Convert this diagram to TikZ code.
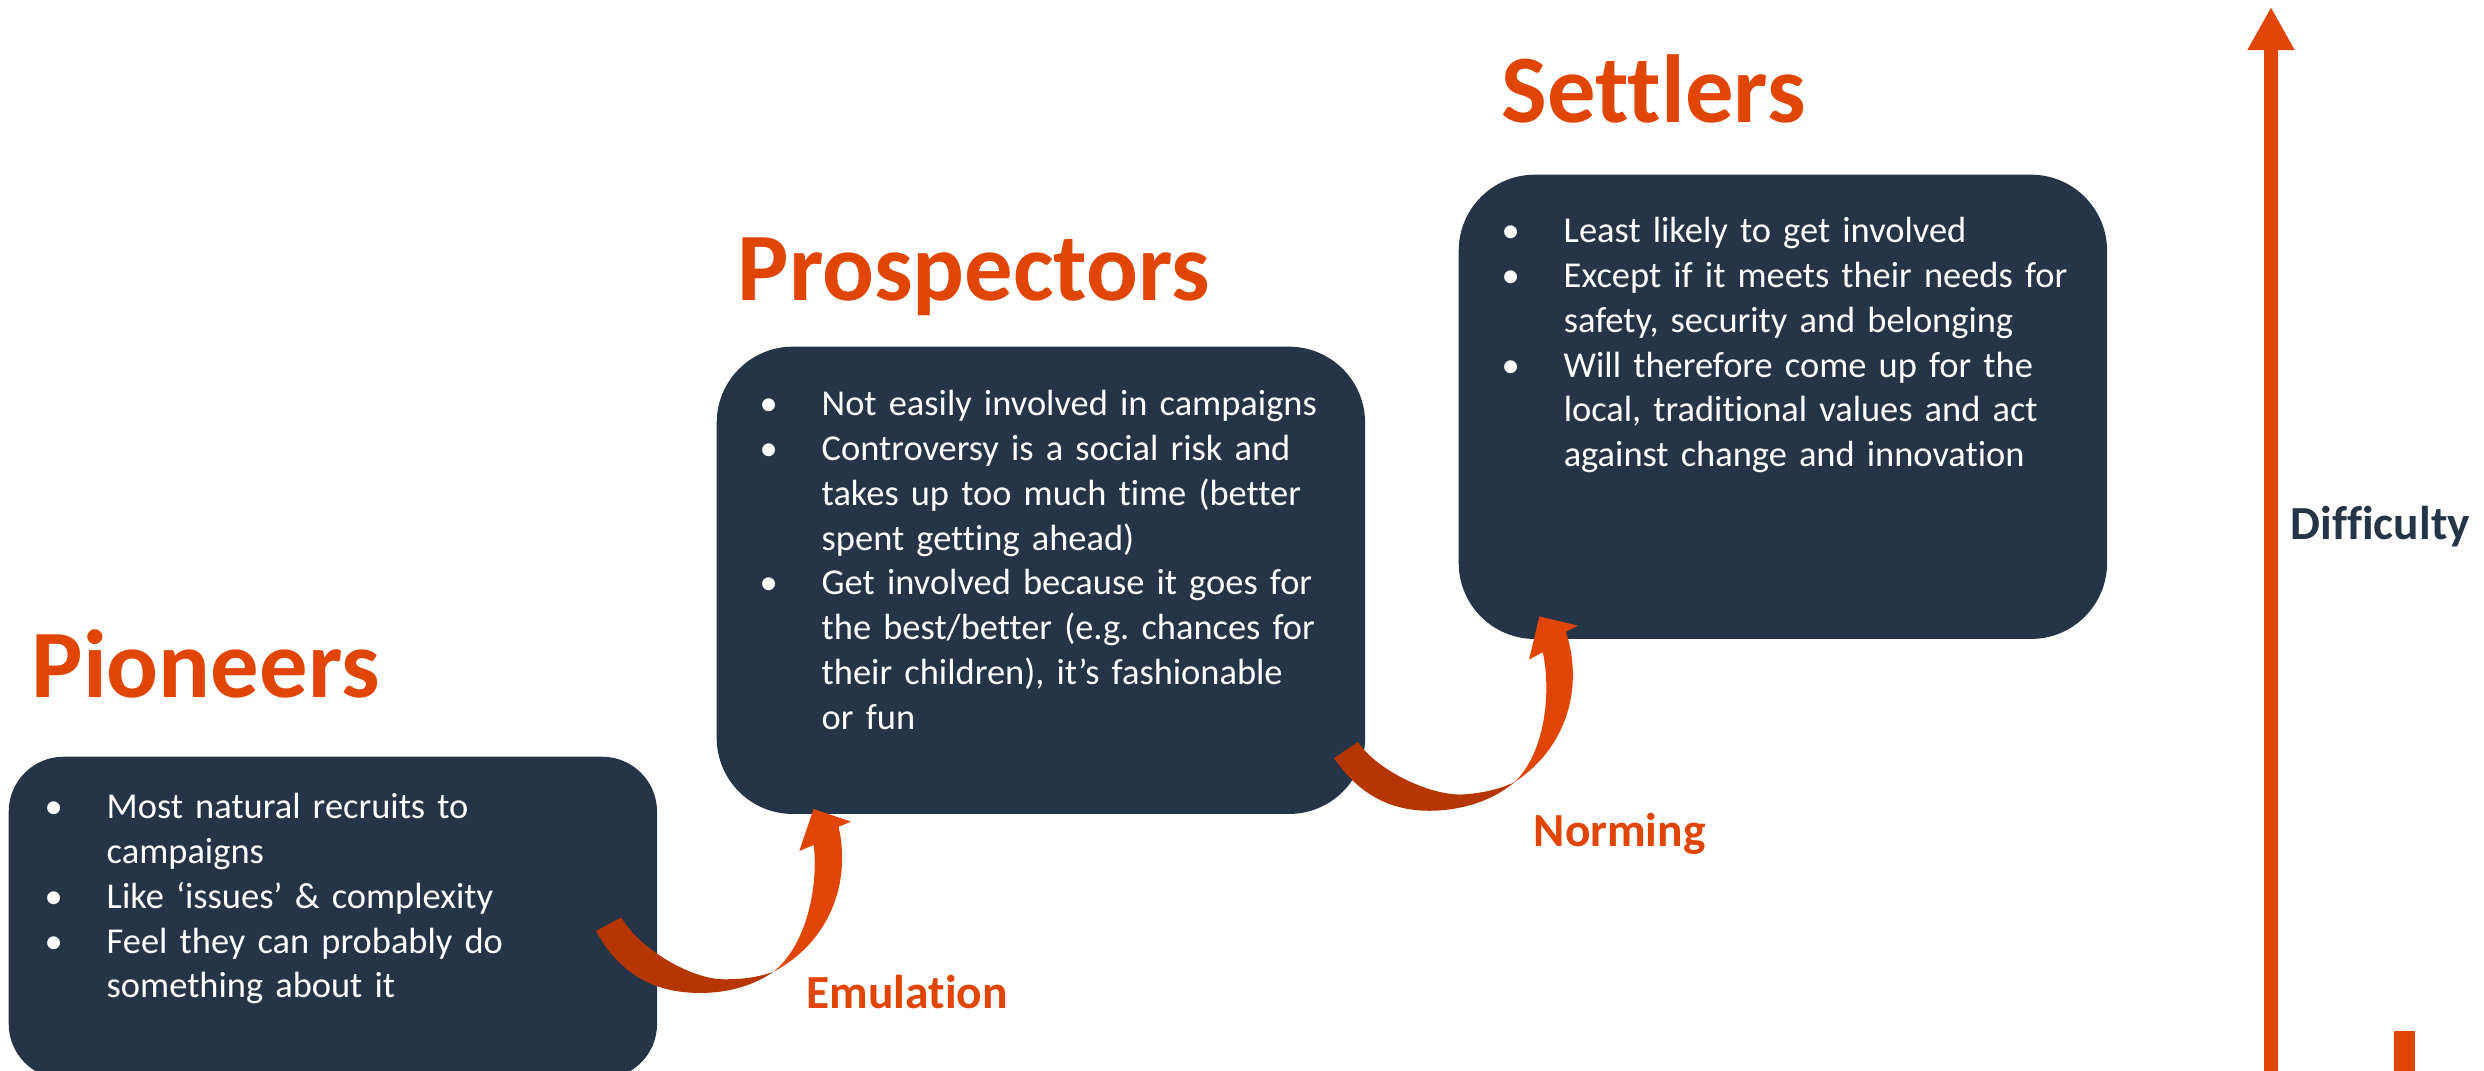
\documentclass[tikz,border=0pt]{standalone}
\usepackage{fontspec}
\setmainfont{Carlito}[Ligatures=NoCommon]
\usepackage{xcolor}
\usepackage{tikz}
\usetikzlibrary{arrows.meta, positioning}
\definecolor{navy}{RGB}{37,53,71}
\definecolor{accent}{RGB}{224,69,4}
\definecolor{accentdark}{RGB}{181,54,0}
\setlength{\parskip}{0pt}
\frenchspacing
\newcommand{\bodysize}{\fontsize{10.36pt}{12.75pt}\selectfont}
\newcommand{\titlesize}{\fontsize{27.5pt}{33pt}\selectfont}
\newcommand{\labelsize}{\fontsize{13.5pt}{16pt}\selectfont}
\newcommand{\bitem}{\par\noindent\hangindent=0.62cm\hangafter=1\makebox[0.62cm][l]{•}}
\newcommand{\firstline}{\rule{0pt}{0.3cm}}
\tikzstyle{panel} = [rectangle, draw=none, fill=navy, minimum width=6.48cm, inner sep=0pt, anchor=north west]
\tikzstyle{points} = [anchor=north west, inner sep=0pt, text width=6cm, align=left, text=white, font=\bodysize]
\tikzstyle{heading} = [anchor=base west, inner sep=0pt, text=accent, font=\titlesize\bfseries]
\tikzstyle{steplabel} = [anchor=base west, inner sep=0pt, text=accent, font=\labelsize\bfseries]
\tikzstyle{axis} = [line width=0.14cm, accent, -{Triangle[width=0.44cm, length=0.43cm]}]
\tikzset{
  curvearrow/.pic={
    \fill[accentdark] (0,0) .. controls (22,40) and (55,62) .. (104,62) .. controls (135,62) and (160,53) .. (177.6,40.7) .. controls (160,47) and (145,48.3) .. (127.6,48.3) .. controls (95,48.3) and (42,17) .. (25.3,-13.7) -- cycle;
    \fill[accent] (177.6,40.7) .. controls (235,10) and (255,-50) .. (242.6,-104.3) -- (255,-109.3) -- (217.6,-122) -- (203.3,-80) -- (217.6,-86) .. controls (222,-55) and (215,10) .. (177.6,40.7) -- cycle;
  }
}
\begin{document}
\begin{tikzpicture}[x=0.01cm, y=-0.01cm]
\useasboundingbox (0,0) rectangle (2484,1071);

% Boxes
\node (piobox) [panel, minimum height=3.22cm, rounded corners=0.55cm] at (8,756) {};
\node (probox) [panel, minimum height=4.67cm, rounded corners=0.76cm] at (716,346) {};
\node (setbox) [panel, minimum height=4.64cm, rounded corners=0.76cm] at (1458,174) {};

% Titles
\node (piotitle) [heading] at (31,698) {Pioneers};
\node (protitle) [heading] at (737,301) {Prospectors};
\node (settitle) [heading] at (1501,123) {Settlers};

% Bullet lists
\node (piolist) [points] at (44,773) {\bitem\firstline Most natural recruits to\newline campaigns
  \bitem Like ‘issues’ \& complexity
  \bitem Feel they can probably do\newline something about it\par};
\node (prolist) [points] at (759,370) {\bitem\firstline Not easily involved in campaigns
  \bitem Controversy is a social risk and\newline takes up too much time (better\newline spent getting ahead)
  \bitem Get involved because it goes for\newline the best/better (e.g. chances for\newline their children), it’s fashionable\newline or fun\par};
\node (setlist) [points] at (1501,197) {\bitem\firstline Least likely to get involved
  \bitem Except if it meets their needs for\newline safety, security and belonging
  \bitem Will therefore come up for the\newline local, traditional values and act\newline against change and innovation\par};

% Curved arrows
\pic at (596,931) {curvearrow};
\pic[rotate=5.3] at (1334,758) {curvearrow};
\node (emul) [steplabel] at (806,1009) {Emulation};
\node (norm) [steplabel] at (1533,847) {Norming};

% Difficulty axis
\coordinate (axisbot) at (2271,1071);
\coordinate (axistop) at (2271,7);
\draw [axis] (axisbot) -- (axistop);
\node (difficulty) [steplabel, text=navy] at (2290,540) {Difficulty};
\fill [accent] (2394,1031) rectangle (2415,1071);

\end{tikzpicture}
\end{document}
